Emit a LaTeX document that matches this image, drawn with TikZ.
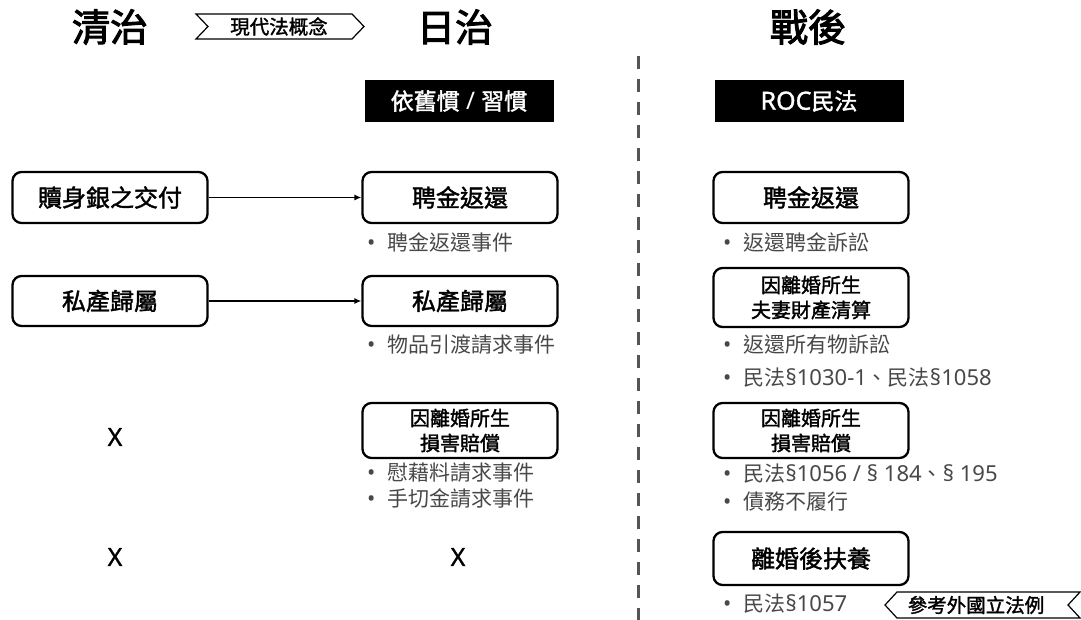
\documentclass[tikz,border=0pt]{standalone}
\usepackage{fontspec}
\setmainfont{Noto Sans CJK TC}
\newfontfamily\medcjk[FakeBold=1.6]{Noto Sans CJK TC}
\newfontfamily\titlecjk[FakeBold=2.6]{Noto Sans CJK TC}
\newfontfamily\lat[Scale=1.05]{Noto Sans}
\newfontfamily\latmed[FakeBold=1.2]{Noto Sans}
\usetikzlibrary{arrows.meta}
\definecolor{bulletgray}{RGB}{72,72,72}
\definecolor{dashgray}{RGB}{85,85,85}
\tikzset{
  title/.style={font=\fontsize{38}{40}\selectfont\titlecjk, inner sep=0pt},
  itembox/.style={draw=black, line width=2.3pt, rounded corners=9pt, minimum width=195pt, align=center, inner sep=0pt},
  boxbig/.style={itembox, font=\fontsize{24}{28}\selectfont\medcjk},
  boxtwo/.style={itembox, font=\fontsize{20}{25}\selectfont\medcjk},
  blackbox/.style={fill=black, text=white, minimum width=189pt, minimum height=42pt, inner sep=0pt, font=\fontsize{23}{26}\selectfont\medcjk},
  bullet/.style={anchor=west, text=bulletgray, inner sep=0pt, font=\fontsize{21}{24}\selectfont},
  xmark/.style={inner sep=0pt, font=\fontsize{25}{27}\selectfont\latmed},
  tagtext/.style={inner sep=0pt, font=\fontsize{19.5}{22}\selectfont\medcjk},
  tagline/.style={draw=black, line width=1.2pt, line join=miter},
  conn/.style={-{Latex[length=7pt,width=6pt]}, line width=1.3pt},
}
\newcommand{\bul}[1]{{\lat •}\hspace{12pt}#1}
\begin{document}
\begin{tikzpicture}[x=1pt,y=-1pt]
\useasboundingbox (0,0) rectangle (1081,620);
% titles
\node[title] (tq) at (110,27) {清治};
\node[title] (tj) at (455,27) {日治};
\node[title] (tp) at (808,27) {戰後};
% chevron tag top
\draw[tagline] (196,14) -- (352,14) -- (364,26.5) -- (352,39) -- (196,39) -- (208,26.5) -- cycle;
\node[tagtext] (tag1) at (279,26.5) {現代法概念};
% black boxes
\node[blackbox] (bj) at (459,101) {依舊慣{\lat\ / }習慣};
\node[blackbox] (bp) at (809,101) {{\fontsize{25}{26}\selectfont\latmed ROC}民法};
% dashed divider
\coordinate (dtop) at (638,56);
\coordinate (dbot) at (638,620);
\draw[dashgray, line width=3pt, dash pattern=on 13pt off 10pt] (dtop) -- (dbot);
% left column
\node[boxbig, minimum height=51pt] (l1) at (110,197.5) {贖身銀之交付};
\node[boxbig, minimum height=50pt] (l2) at (110,301) {私產歸屬};
\node[xmark] (lx3) at (115,437) {X};
\node[xmark] (lx4) at (115,557) {X};
% japan column
\node[boxbig, minimum height=51pt] (j1) at (460,197.5) {聘金返還};
\node[boxbig, minimum height=50pt] (j2) at (460,301) {私產歸屬};
\node[boxtwo, minimum height=55pt] (j3) at (460,430.5) {因離婚所生\\損害賠償};
\node[xmark] (jx4) at (458,557) {X};
\node[bullet] (jb1) at (367,242) {\bul{聘金返還事件}};
\node[bullet] (jb2) at (367,345) {\bul{物品引渡請求事件}};
\node[bullet] (jb3) at (367,473) {\bul{慰藉料請求事件}};
\node[bullet] (jb4) at (367,499) {\bul{手切金請求事件}};
% arrows
\draw[conn] (l1.east) -- (j1.west);
\draw[conn] (l2.east) -- (j2.west);
% postwar column
\node[boxbig, minimum height=51pt] (p1) at (811,197.5) {聘金返還};
\node[boxtwo, minimum height=59pt] (p2) at (811,297.5) {因離婚所生\\夫妻財產清算};
\node[boxtwo, minimum height=55pt] (p3) at (811,430.5) {因離婚所生\\損害賠償};
\node[boxbig, minimum height=53pt] (p4) at (811,558.5) {離婚後扶養};
\node[bullet] (pb1) at (723,242) {\bul{返還聘金訴訟}};
\node[bullet] (pb2) at (723,345) {\bul{返還所有物訴訟}};
\node[bullet] (pb3) at (723,378) {\bul{民法{\lat §1030-1}、民法{\lat §1058}}};
\node[bullet] (pb4) at (723,474) {\bul{民法{\lat §1056 / § 184}、{\lat § 195}}};
\node[bullet] (pb5) at (723,502) {\bul{債務不履行}};
\node[bullet] (pb6) at (723,604) {\bul{民法{\lat §1057}}};
% chevron tag bottom
\draw[tagline] (885,605) -- (897,592) -- (1080,592) -- (1068,605) -- (1080,618) -- (897,618) -- cycle;
\node[tagtext] (tag2) at (976,605) {參考外國立法例};
\end{tikzpicture}
\end{document}
